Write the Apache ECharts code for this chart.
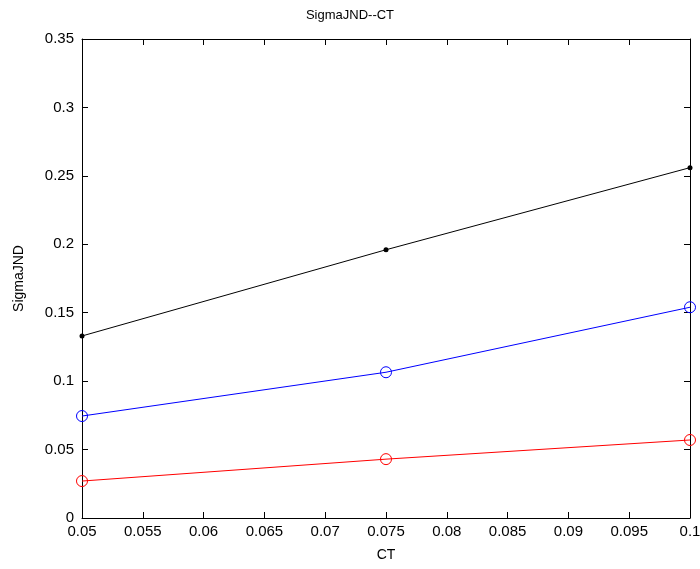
<!DOCTYPE html>
<html>
<head>
<meta charset="utf-8">
<script src="https://cdn.jsdelivr.net/npm/echarts@6/dist/echarts.min.js"></script>
<style>
  html, body { margin: 0; padding: 0; background: #fff; }
  #chart { width: 700px; height: 569px; }
</style>
</head>
<body>
<div id="chart"></div>
<script>
// data
var ct = [0.05, 0.075, 0.1];
var blackLine = [0.133, 0.196, 0.256];
var blueLine = [0.0745, 0.1065, 0.154];
var redLine = [0.027, 0.043, 0.057];

var chart = echarts.init(document.getElementById('chart'));

function pairs(ys) {
    return ct.map(function (x, i) { return [x, ys[i]]; });
}

var font = 'Liberation Sans, Arial, sans-serif';
var axisLine = { show: true, onZero: false, lineStyle: { color: '#000', width: 1 } };
var tick = { show: true, inside: true, length: 6, lineStyle: { color: '#000' } };

var option = {
    animation: false,
    backgroundColor: '#fff',
    title: {
        text: 'SigmaJND--CT',
        left: 'center',
        top: 4,
        textStyle: { fontFamily: font, fontSize: 13, fontWeight: 'normal', color: '#000' }
    },
    grid: { left: 82, right: 10, top: 39, bottom: 51, outerBoundsMode: 'none', containLabel: false },
    xAxis: [{
        type: 'value',
        min: 0.05, max: 0.1, interval: 0.005,
        name: 'CT', nameLocation: 'middle', nameGap: 30,
        nameTextStyle: { fontFamily: font, fontSize: 14, color: '#000' },
        axisLine: axisLine, axisTick: tick,
        axisLabel: { fontFamily: font, fontSize: 15, color: '#000', margin: 6 },
        splitLine: { show: false }
    }, {
        type: 'value', position: 'top',
        min: 0.05, max: 0.1, interval: 0.005,
        axisLine: axisLine, axisTick: tick,
        axisLabel: { show: false }, splitLine: { show: false }
    }],
    yAxis: [{
        type: 'value',
        min: 0, max: 0.35, interval: 0.05,
        name: 'SigmaJND', nameLocation: 'middle', nameGap: 56,
        nameTextStyle: { fontFamily: font, fontSize: 14, color: '#000' },
        axisLine: axisLine, axisTick: tick,
        axisLabel: { fontFamily: font, fontSize: 15, color: '#000', margin: 8 },
        splitLine: { show: false }
    }, {
        type: 'value', position: 'right',
        min: 0, max: 0.35, interval: 0.05,
        axisLine: axisLine, axisTick: tick,
        axisLabel: { show: false }, splitLine: { show: false }
    }],
    series: [{
        type: 'line', data: pairs(blackLine),
        symbol: 'circle', symbolSize: 5,
        lineStyle: { color: '#000', width: 1 },
        itemStyle: { color: '#000' }
    }, {
        type: 'line', data: pairs(blueLine),
        symbol: 'circle', symbolSize: 11,
        lineStyle: { color: '#0000ff', width: 1 },
        itemStyle: { color: 'transparent', borderColor: '#0000ff', borderWidth: 1 }
    }, {
        type: 'line', data: pairs(redLine),
        symbol: 'circle', symbolSize: 11,
        lineStyle: { color: '#ff0000', width: 1 },
        itemStyle: { color: 'transparent', borderColor: '#ff0000', borderWidth: 1 }
    }]
};

chart.setOption(option);
</script>
</body>
</html>
